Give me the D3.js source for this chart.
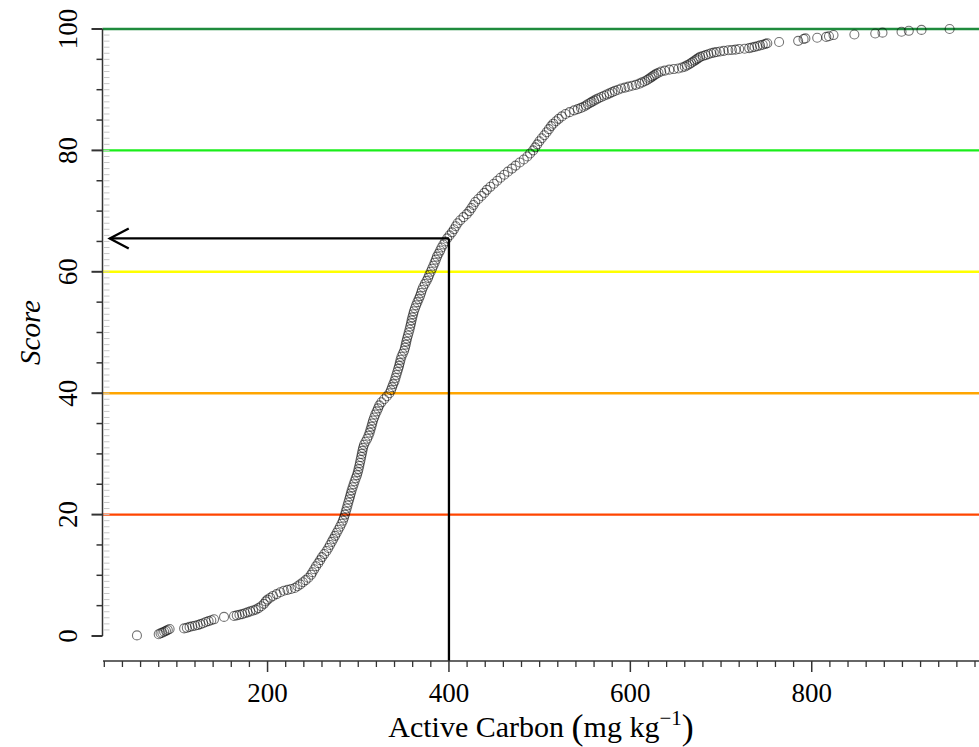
<!DOCTYPE html>
<html>
<head>
<meta charset="utf-8">
<script src="https://cdn.jsdelivr.net/npm/d3@7"></script>
<style>
  html, body { margin: 0; padding: 0; background: #fff; }
  svg { display: block; }
</style>
</head>
<body>
<svg id="chart" width="979" height="747"></svg>
<script>
// ---------------- data ----------------
const carbon = [
  56,80,82,84,86,88,90,92,108,111,
  114,117,120,123,126,129,132,135,138,141,
  152,163,166,169,172,175,178,181,184,187,
  190,193,196,198,200,203,206,210,214,218,
  222,226,230,233,236,239,242,245,248,
  249.5,251.5,253.5,255.9,258,260,262.5,265,267,268.8,
  270.7,272.5,274.4,276.2,278,279.8,281.5,283,284.2,285.3,
  286.2,287.2,288.1,289,290,290.9,291.8,292.7,293.8,294.9,
  296,297.2,298.5,299.5,300.3,301.1,301.8,302.5,303.2,303.9,
  304.6,305.3,306.3,308,309.8,311.3,312.5,313.5,314.5,315.4,
  316.3,317.5,318.8,320.3,321.8,323.2,325.5,328.5,331.5,334.3,
  336,337.3,338.6,340,341,342,343,344,345,345.8,
  346.6,347.6,349,350.5,351.5,352.3,353,353.8,354.7,355.6,
  356.5,357.3,358.1,358.8,359.6,360.5,361.3,362.5,363.8,365.2,
  366.6,368,369.2,370.2,371.6,373.4,375.3,377,378.3,379.8,
  381.3,382.8,384.2,385.5,386.8,388.5,390.3,391.8,393.8,395.8,
  398,400.6,403.3,405.5,407.5,409.5,412.5,416,419.6,422.5,
  424.8,427,429,432.4,435.8,439,441.8,445.6,449.5,453.2,
  456.8,461,465,469.5,473.5,478,482.5,486.4,489.5,492.8,
  495.1,497.4,499.7,502.3,505.1,507.7,510.2,
  512.6,515,518,521,524.5,528.5,533,538,542,545.5,
  548.5,551,553,555.5,557.5,560,562.5,565,568,571,
  574,577,580,583,586.5,590,594,598,602,606,
  610,613,616,618.5,620.5,622.5,624.5,626.5,628.5,631,
  634,638,643,648,653,657,660,662.5,665,667,
  669,671,673,675,677,680,683,686,689,692,
  695,699,703,708,
  712,716,720,726,731,734,737,740,743,746,
  749,751,764,785,791,793,806,816,819,824,
  847,870,878,899,907,921,952
];
const score = [
  0.1,0.3,0.45,0.55,0.7,0.85,1.0,1.15,1.25,1.35,
  1.5,1.6,1.7,1.8,1.95,2.1,2.3,2.45,2.6,2.75,
  3.15,3.3,3.4,3.5,3.6,3.75,3.9,4.05,4.2,4.35,
  4.6,4.9,5.3,5.7,6.0,6.3,6.6,6.9,7.2,7.45,
  7.6,7.75,7.9,8.2,8.5,8.85,9.2,9.6,10.1,
  10.5,11,11.5,12,12.5,13,13.5,14,14.5,15,
  15.5,16,16.5,17,17.5,18,18.5,19,19.5,20,
  20.5,21,21.5,22,22.5,23,23.5,24,24.5,25,
  25.5,26,26.5,27,27.5,28,28.5,29,29.5,30,
  30.5,31,31.5,32,32.5,33,33.5,34,34.5,35,
  35.5,36,36.5,37,37.5,38,38.5,39,39.5,40,
  40.5,41,41.5,42,42.5,43,43.5,44,44.5,45,
  45.5,46,46.5,47,47.5,48,48.5,49,49.5,50,
  50.5,51,51.5,52,52.5,53,53.5,54,54.5,55,
  55.5,56,56.5,57,57.5,58,58.5,59,59.5,60,
  60.5,61,61.5,62,62.5,63,63.5,64,64.5,65,
  65.5,66,66.5,67,67.5,68,68.5,69,69.5,70,
  70.5,71,71.5,72,72.5,73,73.5,74,74.5,75,
  75.5,76,76.5,77,77.5,78,78.5,79,79.5,80,
  80.5,81,81.5,82,82.5,83,83.5,
  84,84.4,84.8,85.2,85.6,86,86.3,86.6,86.8,87,
  87.2,87.4,87.6,87.8,88,88.2,88.4,88.6,88.8,89,
  89.2,89.4,89.6,89.8,90,90.2,90.35,90.5,90.65,90.8,
  91,91.2,91.4,91.6,91.8,92,92.2,92.4,92.6,92.8,
  93,93.15,93.3,93.4,93.5,93.65,93.8,94,94.2,94.4,
  94.6,94.8,95,95.2,95.4,95.55,95.7,95.85,96,96.1,
  96.2,96.3,96.4,96.5,
  96.55,96.6,96.7,96.75,96.85,96.95,97.05,97.15,97.3,97.4,
  97.55,97.65,97.85,98.05,98.35,98.45,98.55,98.7,98.8,99,
  99.1,99.25,99.4,99.55,99.7,99.85,100
];
const yTicks = [0, 20, 40, 60, 80, 100];
const xTicks = [200, 400, 600, 800];
const thresholds = [20, 40, 60, 80, 100];
const thresholdColors = ["#ff4500", "#ffa500", "#ffff00", "#1aee1a", "#1f8b3d"];
const refCarbon = 400;
const refScore = 65.5;
const arrowCarbon = 26;

// ---------------- layout ----------------
const svg = d3.select("#chart");
const x = d3.scaleLinear().domain([20, 980]).range([104.3, 975]);
const y = d3.scaleLinear().domain([0, 100]).range([636, 29]);
const axisY = 661;
const leftX = 102.5;
const rightEdge = 979;
const serif = "'Liberation Serif', 'Times New Roman', serif";

svg.append("rect").attr("width", 979).attr("height", 747).attr("fill", "#fff");

// threshold lines
svg.append("g").selectAll("line").data(thresholds).join("line")
  .attr("x1", leftX).attr("x2", rightEdge)
  .attr("y1", d => y(d)).attr("y2", d => y(d))
  .attr("stroke", (d, i) => thresholdColors[i])
  .attr("stroke-width", 2.4);

// points
const pts = d3.range(Math.min(carbon.length, score.length)).map(i => ({c: carbon[i], s: score[i]}));
svg.append("g").selectAll("circle").data(pts).join("circle")
  .attr("cx", d => x(d.c)).attr("cy", d => y(d.s)).attr("r", 4.5)
  .attr("fill", "none").attr("stroke", "#000").attr("stroke-opacity", 0.55).attr("stroke-width", 1.1);

// reference lines and arrow
const ref = svg.append("g").attr("stroke", "#000").attr("stroke-width", 2.3).attr("fill", "none");
ref.append("line").attr("x1", x(refCarbon)).attr("x2", x(refCarbon))
  .attr("y1", y(refScore)).attr("y2", axisY);
ref.append("line").attr("x1", x(refCarbon)).attr("x2", x(arrowCarbon))
  .attr("y1", y(refScore)).attr("y2", y(refScore));
const tipX = x(arrowCarbon), tipY = y(refScore);
ref.append("path").attr("d", `M${tipX + 19},${tipY - 10}L${tipX},${tipY}L${tipX + 19},${tipY + 10}`);

// y axis
const yg = svg.append("g");
yg.append("line").attr("x1", leftX).attr("x2", leftX).attr("y1", y(100)).attr("y2", y(0))
  .attr("stroke", "#333").attr("stroke-width", 1.5);
// minor inside ticks (every 1)
yg.selectAll("line.minor").data(d3.range(1, 100)).join("line").attr("class", "minor")
  .attr("x1", leftX + 1).attr("x2", leftX + 7)
  .attr("y1", d => y(d)).attr("y2", d => y(d))
  .attr("stroke", "#c8c8c8").attr("stroke-width", 1);
// medium ticks (every 5)
yg.selectAll("line.mid").data(d3.range(5, 100, 5).filter(d => d % 20 !== 0)).join("line").attr("class", "mid")
  .attr("x1", leftX - 6).attr("x2", leftX)
  .attr("y1", d => y(d)).attr("y2", d => y(d))
  .attr("stroke", "#333").attr("stroke-width", 1.5);
yg.selectAll("line.major").data(yTicks).join("line").attr("class", "major")
  .attr("x1", leftX - 11).attr("x2", leftX)
  .attr("y1", d => y(d)).attr("y2", d => y(d))
  .attr("stroke", "#333").attr("stroke-width", 2);
yg.selectAll("text").data(yTicks).join("text")
  .attr("transform", d => `translate(77,${y(d)}) rotate(-90)`)
  .attr("text-anchor", "middle")
  .attr("font-family", serif).attr("font-size", 27).attr("fill", "#000")
  .text(d => d);

// x axis
const xg = svg.append("g");
xg.append("line").attr("x1", 103).attr("x2", rightEdge).attr("y1", axisY).attr("y2", axisY)
  .attr("stroke", "#333").attr("stroke-width", 1.5);
xg.selectAll("line.minor").data(d3.range(20, 1000, 20).filter(d => d % 200 !== 0)).join("line").attr("class", "minor")
  .attr("x1", d => x(d)).attr("x2", d => x(d)).attr("y1", axisY).attr("y2", axisY + 6)
  .attr("stroke", "#333").attr("stroke-width", 1.3);
xg.selectAll("line.major").data(xTicks).join("line").attr("class", "major")
  .attr("x1", d => x(d)).attr("x2", d => x(d)).attr("y1", axisY).attr("y2", axisY + 11)
  .attr("stroke", "#333").attr("stroke-width", 1.5);
xg.selectAll("text").data(xTicks).join("text")
  .attr("x", d => x(d)).attr("y", 701.5)
  .attr("text-anchor", "middle")
  .attr("font-family", serif).attr("font-size", 27).attr("fill", "#000")
  .text(d => d);

// axis titles
const xt = svg.append("text").attr("x", 541).attr("y", 737)
  .attr("text-anchor", "middle").attr("font-family", serif).attr("font-size", 30).attr("fill", "#000");
xt.append("tspan").text("Active Carbon ");
xt.append("tspan").attr("font-size", 36).attr("dy", 2).text("(");
xt.append("tspan").attr("dy", -2).text("mg kg");
xt.append("tspan").attr("font-size", 21).attr("dy", -12).text("\u22121");
xt.append("tspan").attr("font-size", 36).attr("dy", 14).text(")");

svg.append("text")
  .attr("transform", `translate(40,${(y(0) + y(100)) / 2}) rotate(-90)`)
  .attr("text-anchor", "middle").attr("font-family", serif).attr("font-style", "italic")
  .attr("font-size", 29).attr("fill", "#000").text("Score");
</script>
</body>
</html>
